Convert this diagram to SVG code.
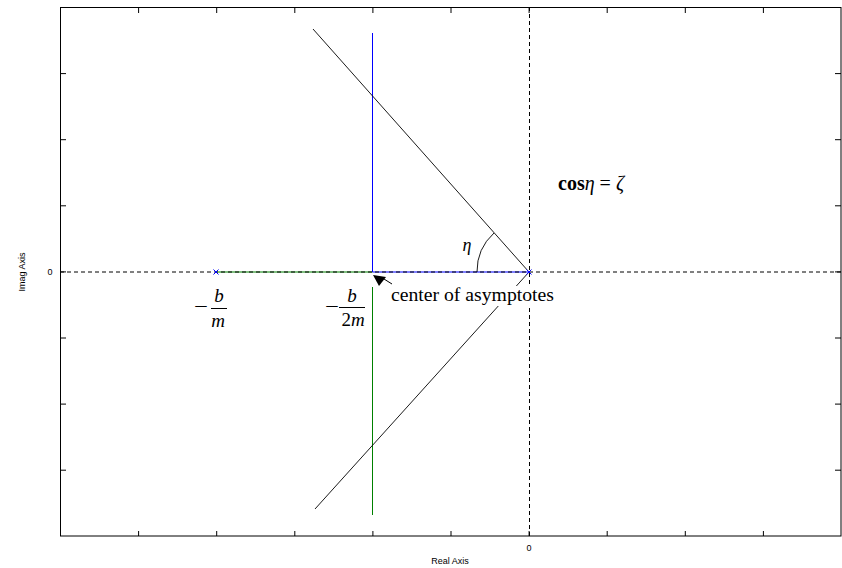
<svg xmlns="http://www.w3.org/2000/svg" width="842" height="568" viewBox="0 0 842 568">
<style>
.tick{stroke:#000;stroke-width:1}
.axlab{font-family:"Liberation Sans",Arial,sans-serif;font-size:9px;fill:#000}
.math{font-family:"Liberation Serif","Times New Roman",serif;fill:#000}
.dot{stroke:#000;stroke-width:1;stroke-dasharray:4,3;fill:none}
</style>
<rect width="842" height="568" fill="#fff"/>
<g id="axes">
<rect x="60.5" y="7.5" width="780.5" height="528.5" fill="none" stroke="#000" stroke-width="1"/>
<g class="tick">
<path d="M138.6,8V13M216.7,8V13M294.8,8V13M372.9,8V13M451,8V13M529.1,8V13M607.2,8V13M685.3,8V13M763.4,8V13"/>
<path d="M138.6,536V531M216.7,536V531M294.8,536V531M372.9,536V531M451,536V531M529.1,536V531M607.2,536V531M685.3,536V531M763.4,536V531"/>
<path d="M60,73.6H66M60,139.7H66M60,205.8H66M60,271.9H66M60,338H66M60,404.1H66M60,470.2H66"/>
<path d="M841,73.6H835M841,139.7H835M841,205.8H835M841,271.9H835M841,338H835M841,404.1H835M841,470.2H835"/>
</g>
<text class="axlab" x="50" y="275" text-anchor="middle">0</text>
<text class="axlab" x="529" y="551" text-anchor="middle">0</text>
<text class="axlab" x="450" y="564" text-anchor="middle">Real Axis</text>
<text class="axlab" x="25" y="272" text-anchor="middle" transform="rotate(-90 25 272)">Imag Axis</text>
</g>
<g id="connectors">
<line x1="216" y1="272" x2="372.5" y2="272" stroke="#008000" stroke-width="1"/>
<line x1="372.5" y1="272" x2="529" y2="272" stroke="#0000ff" stroke-width="1"/>
<line x1="372.5" y1="33" x2="372.5" y2="272" stroke="#0000ff" stroke-width="1"/>
<line x1="372.5" y1="287" x2="372.5" y2="515" stroke="#008000" stroke-width="1"/>
<line class="dot" x1="60" y1="272" x2="841" y2="272"/>
<line class="dot" x1="529.5" y1="7" x2="529.5" y2="536"/>
<line x1="313" y1="29" x2="529" y2="272" stroke="#000" stroke-width="0.9"/>
<line x1="529" y1="272" x2="315" y2="509" stroke="#000" stroke-width="0.9"/>
<path d="M477,272 A52,52 0 0 1 494,233" fill="none" stroke="#000" stroke-width="0.9"/>
<path d="M213.5,269.5L218.5,274.5M218.5,269.5L213.5,274.5" stroke="#0000ff" stroke-width="1"/>
<path d="M526.5,269.5L531.5,274.5M531.5,269.5L526.5,274.5" stroke="#0000ff" stroke-width="1"/>
<line x1="384" y1="279" x2="392" y2="284" stroke="#000" stroke-width="1"/>
<polygon points="373,275 386,277 379,286" fill="#000"/>
</g>
<g id="label-center">
<rect x="389" y="286" width="170" height="20" fill="#fff"/>
<text class="math" x="391" y="301" font-size="19.7">center of asymptotes</text>
</g>
<g id="label-bm">
<text class="math" transform="translate(201 313) scale(1.3 1)" font-size="19" text-anchor="middle">−</text>
<text class="math" x="219" y="302" font-size="19" font-style="italic" text-anchor="middle">b</text>
<line x1="211" y1="308.5" x2="227" y2="308.5" stroke="#000" stroke-width="1"/>
<text class="math" x="218" y="327" font-size="19" font-style="italic" text-anchor="middle">m</text>
</g>
<g id="label-b2m">
<text class="math" transform="translate(332 313) scale(1.3 1)" font-size="19" text-anchor="middle">−</text>
<text class="math" x="352" y="302" font-size="19" font-style="italic" text-anchor="middle">b</text>
<line x1="339" y1="307.5" x2="365" y2="307.5" stroke="#000" stroke-width="1"/>
<text class="math" x="353" y="326" font-size="19" text-anchor="middle">2<tspan font-style="italic">m</tspan></text>
</g>
<g id="label-eta">
<text class="math" x="467" y="251" font-size="18" font-style="italic" text-anchor="middle">η</text>
</g>
<g id="label-cos">
<text class="math" x="558" y="190" font-size="20"><tspan font-weight="bold">cos</tspan><tspan font-style="italic">η</tspan> = <tspan font-style="italic">ζ</tspan></text>
</g>
</svg>
